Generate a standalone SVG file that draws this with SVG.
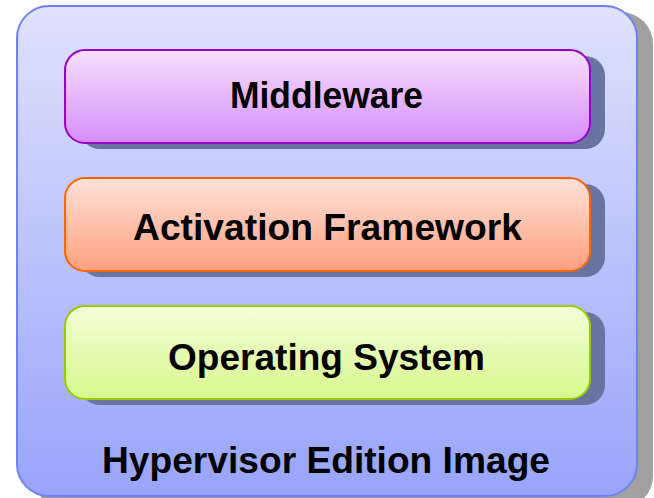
<svg xmlns="http://www.w3.org/2000/svg" width="654" height="498" viewBox="0 0 654 498">
  <defs>
    <linearGradient id="gOuter" x1="0" y1="0" x2="0" y2="1">
      <stop offset="0" stop-color="#dfe2fd"/>
      <stop offset="1" stop-color="#98a4fb"/>
    </linearGradient>
    <linearGradient id="gMid" x1="0" y1="0" x2="0" y2="1">
      <stop offset="0" stop-color="#f5e0fd"/>
      <stop offset="1" stop-color="#d68ef9"/>
    </linearGradient>
    <linearGradient id="gAct" x1="0" y1="0" x2="0" y2="1">
      <stop offset="0" stop-color="#ffe2da"/>
      <stop offset="1" stop-color="#ffa07e"/>
    </linearGradient>
    <linearGradient id="gOs" x1="0" y1="0" x2="0" y2="1">
      <stop offset="0" stop-color="#f3ffd8"/>
      <stop offset="1" stop-color="#d8f88e"/>
    </linearGradient>
  </defs>
  <style>
    .label { font-family: "Liberation Sans", Arial, sans-serif; font-weight: bold; font-size: 37px; fill: #000; text-anchor: middle; }
    .shadow { fill: #6b73a0; }
    .layer { stroke-width: 2; }
  </style>

  <!-- outer container -->
  <g id="hypervisor-image">
    <rect x="33" y="12" width="620" height="496" rx="32" fill="#a0a0a0"/>
    <rect x="17" y="6" width="620" height="490" rx="32" fill="url(#gOuter)" stroke="#7080f8" stroke-width="2"/>
    <text class="label" x="326" y="473" textLength="448" lengthAdjust="spacingAndGlyphs">Hypervisor Edition Image</text>
  </g>

  <g id="middleware">
    <rect class="shadow" x="80" y="56" width="525" height="93" rx="20"/>
    <rect class="layer" x="65" y="50" width="525" height="93" rx="20" fill="url(#gMid)" stroke="#9900cc"/>
    <text class="label" x="326.5" y="108" textLength="193" lengthAdjust="spacingAndGlyphs">Middleware</text>
  </g>

  <g id="activation-framework">
    <rect class="shadow" x="80" y="184" width="525" height="93" rx="20"/>
    <rect class="layer" x="65" y="178" width="525" height="93" rx="20" fill="url(#gAct)" stroke="#ff6600"/>
    <text class="label" x="327.5" y="240" textLength="389" lengthAdjust="spacingAndGlyphs">Activation Framework</text>
  </g>

  <g id="operating-system">
    <rect class="shadow" x="80" y="312" width="525" height="93" rx="20"/>
    <rect class="layer" x="65" y="306" width="525" height="93" rx="20" fill="url(#gOs)" stroke="#99cc00"/>
    <text class="label" x="326.5" y="370" textLength="317" lengthAdjust="spacingAndGlyphs">Operating System</text>
  </g>

  <g id="connectors"/>
</svg>
